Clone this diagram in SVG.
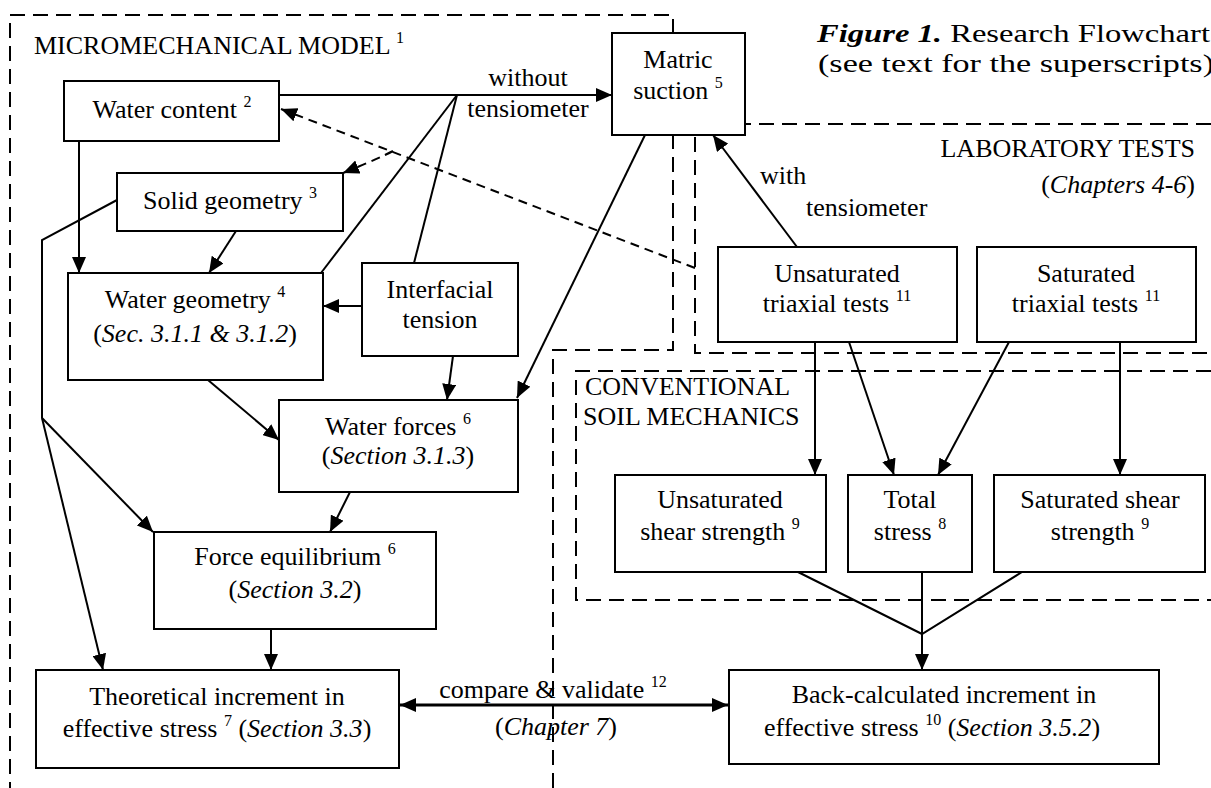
<svg xmlns="http://www.w3.org/2000/svg" width="1211" height="788" viewBox="0 0 1211 788">
<defs>
<style>
text{font-family:"Liberation Serif","Times New Roman",serif;font-size:26px;fill:#000}
.c{text-anchor:middle}
.i{font-style:italic}
.s{font-size:16px}
.box{fill:#fff;stroke:#000;stroke-width:2}
.ln{fill:none;stroke:#000;stroke-width:2}
.dl{fill:none;stroke:#000;stroke-width:2;stroke-dasharray:9 6}
.region{fill:none;stroke:#000;stroke-width:2;stroke-dasharray:15 8}
</style>
<marker id="ah" markerUnits="userSpaceOnUse" markerWidth="16" markerHeight="14" refX="16" refY="7" orient="auto">
<path d="M0,0 L16,7 L0,14 z" fill="#000"/>
</marker>
<marker id="ahs" markerUnits="userSpaceOnUse" markerWidth="16" markerHeight="14" refX="0" refY="7" orient="auto">
<path d="M16,0 L0,7 L16,14 z" fill="#000"/>
</marker>
</defs>
<rect width="1211" height="788" fill="#fff"/>

<g id="regions">
<path class="region" d="M553,788 V350 H673 V15 H10 V788"/>
<path class="region" d="M1211,124 H695 V353 H1211"/>
<path class="region" d="M1211,371 H576 V600 H1211"/>
</g>

<g id="labels">
<text x="34" y="54">MICROMECHANICAL MODEL <tspan class="s" dy="-11">1</tspan></text>
<text x="817" y="42" textLength="393" lengthAdjust="spacingAndGlyphs"><tspan font-weight="bold" font-style="italic">Figure 1.</tspan> Research Flowchart</text>
<text x="818" y="72" textLength="396" lengthAdjust="spacingAndGlyphs">(see text for the superscripts)</text>
<text x="1195" y="157" text-anchor="end">LABORATORY TESTS</text>
<text x="1195" y="193" text-anchor="end">(<tspan class="i">Chapters 4-6</tspan>)</text>
<text x="585" y="395">CONVENTIONAL</text>
<text x="583" y="425">SOIL MECHANICS</text>
</g>

<g id="connectors">
<path class="ln" d="M279,95 H612" marker-end="url(#ah)"/>
<path class="ln" d="M457,95 L321,273"/>
<path class="ln" d="M457,95 L414,263"/>
<path class="ln" d="M79,141 V273" marker-end="url(#ah)"/>
<path class="ln" d="M236,231 L209,273" marker-end="url(#ah)"/>
<path class="ln" d="M117,200 L42,240 V418"/>
<path class="ln" d="M42,418 L153,532" marker-end="url(#ah)"/>
<path class="ln" d="M42,418 L103,670" marker-end="url(#ah)"/>
<path class="ln" d="M362,306 H323" marker-end="url(#ah)"/>
<path class="ln" d="M453,356 L447,400" marker-end="url(#ah)"/>
<path class="ln" d="M645,135 L517,398" marker-end="url(#ah)"/>
<path class="ln" d="M208,380 L279,440" marker-end="url(#ah)"/>
<path class="ln" d="M350,492 L330,532" marker-end="url(#ah)"/>
<path class="ln" d="M271,629 V670" marker-end="url(#ah)"/>
<path fill="none" stroke="#000" stroke-width="3" d="M400,705 H728" marker-start="url(#ahs)" marker-end="url(#ah)"/>
<path class="ln" d="M797,247 L713,135" marker-end="url(#ah)"/>
<path class="dl" d="M695,268 L281,109" marker-end="url(#ah)"/>
<path class="dl" d="M393,151 Q380,158 343,173" marker-end="url(#ah)"/>
<path class="ln" d="M815,342 V475" marker-end="url(#ah)"/>
<path class="ln" d="M849,342 L894,475" marker-end="url(#ah)"/>
<path class="ln" d="M1009,342 L938,475" marker-end="url(#ah)"/>
<path class="ln" d="M1120,342 V475" marker-end="url(#ah)"/>
<path class="ln" d="M798,572 L922,634 L1022,572 M922,572 V634"/>
<path class="ln" d="M922,634 V670" marker-end="url(#ah)"/>
<text class="c" x="528" y="86">without</text>
<text class="c" x="528" y="117">tensiometer</text>
<text x="760" y="184">with</text>
<text x="806" y="216">tensiometer</text>
<text class="c" x="553" y="698">compare &amp; validate <tspan class="s" dy="-11">12</tspan></text>
<text class="c" x="556" y="735">(<tspan class="i">Chapter 7</tspan>)</text>
</g>

<g id="water-content">
<rect class="box" x="64" y="81" width="215" height="60"/>
<text class="c" x="172" y="118">Water content <tspan class="s" dy="-11">2</tspan></text>
</g>
<g id="solid-geometry">
<rect class="box" x="117" y="173" width="226" height="58"/>
<text class="c" x="230" y="209">Solid geometry <tspan class="s" dy="-11">3</tspan></text>
</g>
<g id="water-geometry">
<rect class="box" x="68" y="273" width="255" height="107"/>
<text class="c" x="195" y="308">Water geometry <tspan class="s" dy="-11">4</tspan></text>
<text class="c" x="195" y="342">(<tspan class="i">Sec. 3.1.1 &amp; 3.1.2</tspan>)</text>
</g>
<g id="interfacial-tension">
<rect class="box" x="362" y="263" width="156" height="93"/>
<text class="c" x="440" y="298">Interfacial</text>
<text class="c" x="440" y="328">tension</text>
</g>
<g id="matric-suction">
<rect class="box" x="612" y="33" width="133" height="102"/>
<text class="c" x="678" y="68">Matric</text>
<text class="c" x="678" y="99">suction <tspan class="s" dy="-11">5</tspan></text>
</g>
<g id="water-forces">
<rect class="box" x="279" y="400" width="239" height="92"/>
<text class="c" x="398" y="435">Water forces <tspan class="s" dy="-11">6</tspan></text>
<text class="c" x="398" y="464">(<tspan class="i">Section 3.1.3</tspan>)</text>
</g>
<g id="force-equilibrium">
<rect class="box" x="154" y="532" width="282" height="97"/>
<text class="c" x="295" y="565">Force equilibrium <tspan class="s" dy="-11">6</tspan></text>
<text class="c" x="295" y="598">(<tspan class="i">Section 3.2</tspan>)</text>
</g>
<g id="theoretical-increment">
<rect class="box" x="36" y="670" width="363" height="98"/>
<text class="c" x="217" y="705">Theoretical increment in</text>
<text class="c" x="217" y="737">effective stress <tspan class="s" dy="-11">7</tspan><tspan dy="11"> (</tspan><tspan class="i">Section 3.3</tspan>)</text>
</g>
<g id="back-calculated-increment">
<rect class="box" x="729" y="670" width="430" height="94"/>
<text class="c" x="944" y="703">Back-calculated increment in</text>
<text class="c" x="932" y="736">effective stress <tspan class="s" dy="-11">10</tspan><tspan dy="11"> (</tspan><tspan class="i">Section 3.5.2</tspan>)</text>
</g>
<g id="unsaturated-triaxial">
<rect class="box" x="718" y="247" width="239" height="95"/>
<text class="c" x="837" y="282">Unsaturated</text>
<text class="c" x="837" y="312">triaxial tests <tspan class="s" dy="-11">11</tspan></text>
</g>
<g id="saturated-triaxial">
<rect class="box" x="977" y="247" width="219" height="95"/>
<text class="c" x="1086" y="282">Saturated</text>
<text class="c" x="1086" y="312">triaxial tests <tspan class="s" dy="-11">11</tspan></text>
</g>
<g id="unsaturated-shear">
<rect class="box" x="615" y="475" width="211" height="97"/>
<text class="c" x="720" y="508">Unsaturated</text>
<text class="c" x="720" y="540">shear strength <tspan class="s" dy="-11">9</tspan></text>
</g>
<g id="total-stress">
<rect class="box" x="848" y="475" width="124" height="97"/>
<text class="c" x="910" y="508">Total</text>
<text class="c" x="910" y="540">stress <tspan class="s" dy="-11">8</tspan></text>
</g>
<g id="saturated-shear">
<rect class="box" x="994" y="475" width="211" height="97"/>
<text class="c" x="1100" y="508">Saturated shear</text>
<text class="c" x="1100" y="540">strength <tspan class="s" dy="-11">9</tspan></text>
</g>
</svg>
